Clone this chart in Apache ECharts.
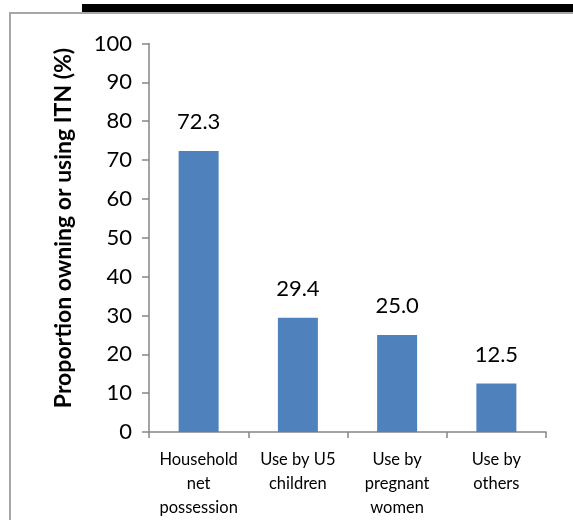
<!DOCTYPE html>
<html>
<head>
<meta charset="utf-8">
<script src="https://cdn.jsdelivr.net/npm/echarts@6/dist/echarts.min.js"></script>
<style>
  html, body { margin: 0; padding: 0; background: #fff; }
  #chart { width: 573px; height: 520px; }
</style>
</head>
<body>
<div id="chart"></div>
<script>
const categories = [
  'Household\nnet\npossession',
  'Use by U5\nchildren',
  'Use by\npregnant\nwomen',
  'Use by\nothers'
]
const values = [72.3, 29.4, 25.0, 12.5]
const yTicks = { min: 0, max: 100, interval: 10 }
const yTitle = 'Proportion owning or using ITN (%)'

const axisGray = '#868686'
const font = 'Lato, "Open Sans", sans-serif'

const chart = echarts.init(document.getElementById('chart'))

chart.setOption({
  animation: false,
  grid: { left: 149, right: 27, top: 43.5, bottom: 88 },
  graphic: [
    { type: 'rect', shape: { x: 82, y: 4, width: 491, height: 8 }, style: { fill: '#000' } },
    { type: 'rect', shape: { x: 9, y: 12, width: 564, height: 2 }, style: { fill: '#a6a6a6' } },
    { type: 'rect', shape: { x: 9, y: 12, width: 2, height: 508 }, style: { fill: '#a6a6a6' } },
    // axis title, placed by hand so it sits where the original has it
    {
      type: 'text',
      x: 64,
      y: 228,
      rotation: Math.PI / 2,
      style: {
        text: yTitle,
        fill: '#000',
        font: 'bold 23px ' + font,
        align: 'center',
        verticalAlign: 'middle'
      }
    }
  ],
  xAxis: {
    type: 'category',
    data: categories,
    axisLine: { lineStyle: { color: axisGray, width: 1.5 } },
    axisTick: { show: true, length: 6, lineStyle: { color: axisGray, width: 1.5 } },
    axisLabel: {
      color: '#000',
      fontFamily: font,
      fontSize: 16.5,
      lineHeight: 24,
      margin: 16,
      interval: 0
    }
  },
  yAxis: {
    type: 'value',
    min: yTicks.min,
    max: yTicks.max,
    interval: yTicks.interval,
    axisLine: { show: true, lineStyle: { color: axisGray, width: 1.5 } },
    axisTick: { show: true, length: 7, lineStyle: { color: axisGray, width: 1.5 } },
    splitLine: { show: false },
    axisLabel: { color: '#000', fontFamily: font, fontSize: 22, margin: 17 }
  },
  series: [
    {
      type: 'bar',
      data: values,
      barWidth: 40,
      itemStyle: { color: '#4F81BD' },
      label: {
        show: true,
        position: 'top',
        distance: 18,
        color: '#000',
        fontFamily: font,
        fontSize: 22,
        formatter: p => p.value.toFixed(1)
      }
    }
  ]
})
</script>
</body>
</html>
